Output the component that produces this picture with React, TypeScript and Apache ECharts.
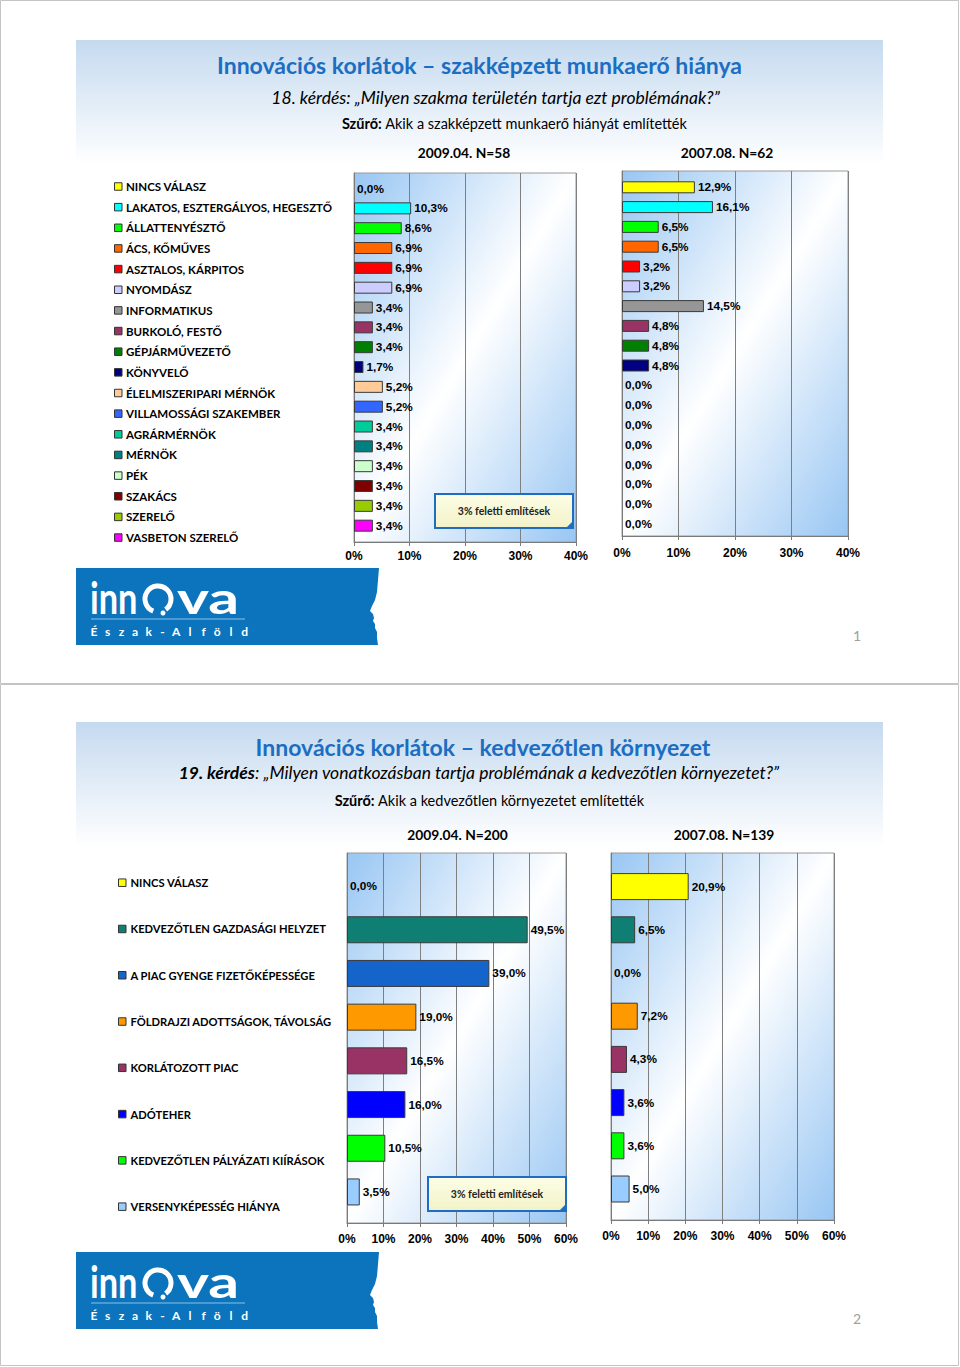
import React, { useEffect, useRef } from "react";
import * as echarts from "echarts";

// ---------- DATA ----------
const jobCategories = [
  "NINCS VÁLASZ",
  "LAKATOS, ESZTERGÁLYOS, HEGESZTŐ",
  "ÁLLATTENYÉSZTŐ",
  "ÁCS, KŐMŰVES",
  "ASZTALOS, KÁRPITOS",
  "NYOMDÁSZ",
  "INFORMATIKUS",
  "BURKOLÓ, FESTŐ",
  "GÉPJÁRMŰVEZETŐ",
  "KÖNYVELŐ",
  "ÉLELMISZERIPARI MÉRNÖK",
  "VILLAMOSSÁGI SZAKEMBER",
  "AGRÁRMÉRNÖK",
  "MÉRNÖK",
  "PÉK",
  "SZAKÁCS",
  "SZERELŐ",
  "VASBETON SZERELŐ",
];
const jobColors = [
  "#ffff00", "#00ffff", "#00ff00", "#ff6600", "#ff0000", "#ccccff",
  "#969696", "#993366", "#008000", "#000080", "#ffcc99", "#3366ff",
  "#00cc99", "#008080", "#ccffcc", "#800000", "#99cc00", "#ff00ff",
];
const jobs2009 = [0.0, 10.3, 8.6, 6.9, 6.9, 6.9, 3.4, 3.4, 3.4, 1.7, 5.2, 5.2, 3.4, 3.4, 3.4, 3.4, 3.4, 3.4];
const jobs2007 = [12.9, 16.1, 6.5, 6.5, 3.2, 3.2, 14.5, 4.8, 4.8, 4.8, 0.0, 0.0, 0.0, 0.0, 0.0, 0.0, 0.0, 0.0];

const envCategories = [
  "NINCS VÁLASZ",
  "KEDVEZŐTLEN GAZDASÁGI HELYZET",
  "A PIAC GYENGE FIZETŐKÉPESSÉGE",
  "FÖLDRAJZI ADOTTSÁGOK, TÁVOLSÁG",
  "KORLÁTOZOTT PIAC",
  "ADÓTEHER",
  "KEDVEZŐTLEN PÁLYÁZATI KIÍRÁSOK",
  "VERSENYKÉPESSÉG HIÁNYA",
];
const envColors = ["#ffff00", "#0f7f74", "#1464cc", "#ff9900", "#993366", "#0000ff", "#00ff00", "#99ccff"];
const env2009 = [0.0, 49.5, 39.0, 19.0, 16.5, 16.0, 10.5, 3.5];
const env2007 = [20.9, 6.5, 0.0, 7.2, 4.3, 3.6, 3.6, 5.0];

const jobAxisMax = 40;
const envAxisMax = 60;
const tickStep = 10;

const page1Title = "Innovációs korlátok – szakképzett munkaerő hiánya";
const page1Question = "18. kérdés: „Milyen szakma területén tartja ezt problémának?”";
const page1Filter = "Akik a szakképzett munkaerő hiányát említették";
const page1Periods = ["2009.04. N=58", "2007.08. N=62"];

const page2Title = "Innovációs korlátok – kedvezőtlen környezet";
const page2QNum = "19. kérdés";
const page2Question = ": „Milyen vonatkozásban tartja problémának a kedvezőtlen környezetet?”";
const page2Filter = "Akik a kedvezőtlen környezetet említették";
const page2Periods = ["2009.04. N=200", "2007.08. N=139"];

const noteText = "3% feletti említések";
const filterLabel = "Szűrő:";
const logoSub = "Észak-Alföld";

// ---------- STYLE ----------
const CAL = "Lato, 'Open Sans', sans-serif";
const ARIAL = "'Liberation Sans', Arial, sans-serif";
const TITLE_BLUE = "#1b6ec2";
const LOGO_BLUE = "#0b74bd";

const fmtPct = (v: number) => v.toFixed(1).replace(".", ",") + "%";

const plotBg = () =>
  new echarts.graphic.LinearGradient(0, 0, 1, 1, [
    { offset: 0, color: "#98c6f3" },
    { offset: 0.5, color: "#ffffff" },
    { offset: 1, color: "#98c6f3" },
  ]);

type Plot = {
  bg: { left: number; top: number; width: number; height: number };
  bars: { top: number; height: number };
  max: number;
  labelMargin: number;
  cats: string[];
  colors: string[];
  values: number[];
  barWidth: number;
};

const plots: Plot[] = [
  { bg: { left: 354, top: 173, width: 222, height: 369 }, bars: { top: 178.6, height: 357 }, max: jobAxisMax, labelMargin: 8, cats: jobCategories, colors: jobColors, values: jobs2009, barWidth: 12 },
  { bg: { left: 622, top: 171, width: 226, height: 365 }, bars: { top: 177.4, height: 356.4 }, max: jobAxisMax, labelMargin: 11, cats: jobCategories, colors: jobColors, values: jobs2007, barWidth: 12 },
  { bg: { left: 347, top: 853, width: 219, height: 370 }, bars: { top: 864.2, height: 349.6 }, max: envAxisMax, labelMargin: 10, cats: envCategories, colors: envColors, values: env2009, barWidth: 27 },
  { bg: { left: 611, top: 853, width: 223, height: 367 }, bars: { top: 865, height: 345.6 }, max: envAxisMax, labelMargin: 10, cats: envCategories, colors: envColors, values: env2007, barWidth: 27 },
];

function buildOption() {
  const grid: any[] = [];
  const xAxis: any[] = [];
  const yAxis: any[] = [];
  const series: any[] = [];

  plots.forEach((p, k) => {
    grid.push({
      left: p.bg.left, top: p.bg.top, width: p.bg.width, height: p.bg.height,
      show: true, backgroundColor: plotBg(), borderColor: "#9a9a9a", borderWidth: 1,
    });
    xAxis.push({
      gridIndex: 2 * k, type: "value", min: 0, max: p.max, interval: tickStep,
      axisLine: { show: true, lineStyle: { color: "#7a7a7a", width: 1 } },
      axisTick: { show: true, length: 4, lineStyle: { color: "#7a7a7a" } },
      splitLine: { show: true, lineStyle: { color: "#7f7f7f", width: 1 } },
      axisLabel: {
        margin: p.labelMargin, formatter: (v: number) => v + "%",
        fontFamily: ARIAL, fontWeight: "bold", fontSize: 12, color: "#000",
      },
    });
    yAxis.push({
      gridIndex: 2 * k, type: "value", min: 0, max: 1,
      axisLine: { show: true, lineStyle: { color: "#7a7a7a", width: 1 } },
      axisTick: { show: false }, axisLabel: { show: false }, splitLine: { show: false },
    });
    grid.push({ left: p.bg.left, top: p.bars.top, width: p.bg.width, height: p.bars.height, show: false });
    xAxis.push({ gridIndex: 2 * k + 1, type: "value", min: 0, max: p.max, show: false });
    yAxis.push({ gridIndex: 2 * k + 1, type: "category", data: p.cats, inverse: true, show: false });
    series.push({
      type: "bar", xAxisIndex: 2 * k + 1, yAxisIndex: 2 * k + 1, barWidth: p.barWidth,
      data: p.values.map((v, i) => ({
        value: v,
        itemStyle: { color: p.colors[i], borderColor: "#3a3a3a", borderWidth: v > 0 ? 1 : 0 },
      })),
      label: {
        show: true, position: "right", distance: 3,
        formatter: (q: any) => fmtPct(q.value),
        fontFamily: ARIAL, fontWeight: "bold", fontSize: 11.8, color: "#000",
      },
    });
  });

  const g: any[] = [];

  // page frames
  g.push({ type: "rect", z: 0, shape: { x: 0.5, y: 0.5, width: 958, height: 683 }, style: { fill: "none", stroke: "#c4c4c4", lineWidth: 1 } });
  g.push({ type: "rect", z: 0, shape: { x: 0.5, y: 684.5, width: 958, height: 681 }, style: { fill: "none", stroke: "#c4c4c4", lineWidth: 1 } });

  const headerGrad = () =>
    new echarts.graphic.LinearGradient(0, 0, 0, 1, [
      { offset: 0, color: "#c5daef" },
      { offset: 1, color: "#ffffff" },
    ]);

  const header = (y0: number, title: string, titleX: number, question: any, qX: number, filter: string, fX: number, periods: string[], pX: number[], pY: number) => {
    g.push({ type: "rect", z: 1, shape: { x: 76, y: y0, width: 807, height: 125 }, style: { fill: headerGrad() } });
    g.push({ type: "text", z: 2, x: titleX, y: y0 + 25, style: { text: title, fontFamily: CAL, fontWeight: "bold", fontSize: 23, fill: TITLE_BLUE, align: "center", verticalAlign: "middle" } });
    g.push({ type: "text", z: 2, x: qX, y: y0 + (question.dy as number), style: { text: question.text, rich: question.rich, fontFamily: CAL, fontStyle: "italic", fontSize: 17.5, fill: "#000", align: "center", verticalAlign: "middle" } });
    g.push({
      type: "text", z: 2, x: fX, y: y0 + question.fdy,
      style: {
        text: "{b|" + filterLabel + "}{n| " + filter + "}", align: "center", verticalAlign: "middle",
        rich: { b: { fontFamily: CAL, fontWeight: "bold", fontSize: 14.5, fill: "#000" }, n: { fontFamily: CAL, fontSize: 14.5, fill: "#000" } },
      },
    });
    periods.forEach((t, i) =>
      g.push({ type: "text", z: 2, x: pX[i], y: pY, style: { text: t, fontFamily: CAL, fontWeight: "bold", fontSize: 13.8, fill: "#000", align: "center", verticalAlign: "middle" } })
    );
  };

  header(40, page1Title, 479.5, { text: page1Question, dy: 57, fdy: 83 }, 495.5, page1Filter, 514.5, page1Periods, [464, 727], 152);
  header(
    722, page2Title, 483,
    {
      text: "{bi|" + page2QNum + "}{i|" + page2Question + "}", dy: 50, fdy: 78,
      rich: {
        bi: { fontFamily: CAL, fontStyle: "italic", fontWeight: "bold", fontSize: 17.5, fill: "#000" },
        i: { fontFamily: CAL, fontStyle: "italic", fontSize: 17.5, fill: "#000" },
      },
    },
    479, page2Filter, 489.5, page2Periods, [457.5, 724], 834
  );

  const legend = (cats: string[], colors: string[], x0: number, y0: number, step: number, textX: number, fs: number) => {
    cats.forEach((c, i) => {
      const cy = y0 + i * step;
      g.push({ type: "rect", z: 2, shape: { x: x0, y: cy - 3.75, width: 7.5, height: 7.5 }, style: { fill: colors[i], stroke: "#333", lineWidth: 1 } });
      g.push({ type: "text", z: 2, x: textX, y: cy, style: { text: c, fontFamily: CAL, fontWeight: "bold", fontSize: fs, fill: "#000", align: "left", verticalAlign: "middle" } });
    });
  };
  legend(jobCategories, jobColors, 114.5, 186.5, 20.65, 126, 11.5);
  legend(envCategories, envColors, 118.5, 882.7, 46.28, 130.5, 11.2);

  const note = (x: number, y: number, w: number, h: number) => {
    g.push({
      type: "rect", z: 50, shape: { x, y, width: w, height: h },
      style: {
        fill: new echarts.graphic.LinearGradient(0, 0, 0, 1, [
          { offset: 0, color: "#fdfde6" },
          { offset: 1, color: "#f2f2c8" },
        ]),
        stroke: "#1f6dc2", lineWidth: 2,
      },
    });
    g.push({ type: "polygon", z: 51, shape: { points: [[x + w - 7, y + h], [x + w, y + h - 7], [x + w, y + h]] }, style: { fill: "#1f6dc2" } });
    g.push({ type: "text", z: 52, x: x + w / 2, y: y + h / 2, style: { text: noteText, fontFamily: CAL, fontWeight: "bold", fontSize: 10.5, fill: "#222", align: "center", verticalAlign: "middle" } });
  };
  note(435, 494, 138, 34);
  note(428, 1177, 138, 34);

  const logo = (dy: number) => {
    const pts = [[76, 568], [379, 568], [378, 580], [377, 592], [375, 600], [372, 606], [370, 611], [373, 614], [374, 618], [373, 621], [375, 624], [375, 628], [377, 632], [377, 638], [378, 645], [76, 645]].map(([a, b]) => [a, b + dy]);
    g.push({ type: "polygon", z: 2, shape: { points: pts }, style: { fill: LOGO_BLUE } });
    g.push({ type: "text", z: 3, x: 90, y: 597 + dy, scaleX: 0.78, style: { text: "inn", fontFamily: CAL, fontWeight: "bold", fontSize: 44, fill: "#fff", align: "left", verticalAlign: "middle" } });
    g.push({ type: "arc", z: 3, shape: { cx: 158, cy: 599 + dy, r: 13, startAngle: Math.PI * 0.62, endAngle: Math.PI * 2.3, clockwise: true }, style: { stroke: "#fff", lineWidth: 5, fill: "none" } });
    g.push({ type: "circle", z: 3, shape: { cx: 163, cy: 613 + dy, r: 2.5 }, style: { fill: "#fff" } });
    g.push({ type: "text", z: 3, x: 177, y: 597 + dy, scaleX: 1.38, style: { text: "va", fontFamily: CAL, fontWeight: "bold", fontSize: 44, fill: "#fff", align: "left", verticalAlign: "middle" } });
    g.push({ type: "line", z: 3, shape: { x1: 91, y1: 619 + dy, x2: 245, y2: 619 + dy }, style: { stroke: "#8fc0e6", lineWidth: 1 } });
    logoSub.split("").forEach((ch, i) =>
      g.push({ type: "text", z: 3, x: 94 + i * 13.7, y: 631 + dy, style: { text: ch, fontFamily: CAL, fontWeight: "bold", fontSize: 12, fill: "#fff", align: "center", verticalAlign: "middle" } })
    );
  };
  logo(0);
  logo(684);

  g.push({ type: "text", z: 2, x: 857, y: 635, style: { text: "1", fontFamily: CAL, fontSize: 14, fill: "#a0a0a0", align: "center", verticalAlign: "middle" } });
  g.push({ type: "text", z: 2, x: 857, y: 1318, style: { text: "2", fontFamily: CAL, fontSize: 14, fill: "#a0a0a0", align: "center", verticalAlign: "middle" } });

  return { animation: false, backgroundColor: "#ffffff", grid, xAxis, yAxis, series, graphic: { elements: g } };
}

export default function App() {
  const ref = useRef<HTMLDivElement>(null);
  useEffect(() => {
    if (!ref.current) return;
    const chart = echarts.init(ref.current, undefined, { renderer: "svg" });
    chart.setOption(buildOption() as any);
    return () => chart.dispose();
  }, []);
  return <div ref={ref} style={{ position: "fixed", left: 0, top: 0, width: 960, height: 1367 }} />;
}
